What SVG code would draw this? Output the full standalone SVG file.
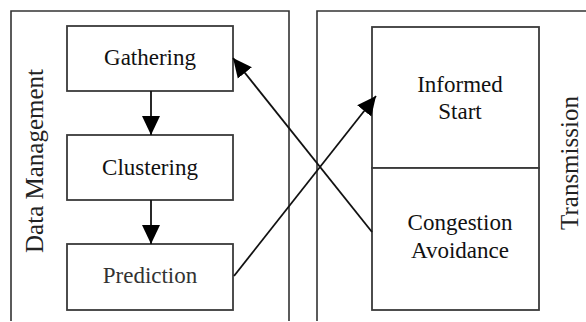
<svg xmlns="http://www.w3.org/2000/svg" width="586" height="322" viewBox="0 0 586 322">
<defs>
<style>
.panel{fill:none;stroke:#333;stroke-width:1.6}
.box{fill:#fff;stroke:#3a3a3a;stroke-width:1.8}
.t{font-family:"Liberation Serif","Times New Roman",serif;font-size:23px;fill:#111;text-anchor:middle}
.lbl{font-family:"Liberation Serif","Times New Roman",serif;font-size:25px;fill:#222;text-anchor:middle}
.c{fill:none;stroke:#111;stroke-width:1.8}
</style>
<marker id="ah" markerUnits="userSpaceOnUse" markerWidth="22" markerHeight="22" viewBox="0 0 22 22" refX="19" refY="11" orient="auto">
<path d="M0,2 L19,11 L0,20 Z" fill="#000"/>
</marker>
</defs>
<rect width="586" height="322" fill="#fff"/>
<g id="panel-data-management">
<path class="panel" d="M11,321 V11 H289 V321"/>
<text class="lbl" transform="translate(43,161) rotate(-90)">Data Management</text>
</g>
<g id="panel-transmission">
<path class="panel" d="M317,321 V11 H586"/>
<text class="lbl" transform="translate(578,163) rotate(-90)">Transmission</text>
</g>
<g id="gathering">
<rect class="box" x="67" y="26" width="166" height="65"/>
<text class="t" x="150" y="65">Gathering</text>
</g>
<g id="clustering">
<rect class="box" x="67" y="135" width="166" height="65"/>
<text class="t" x="150" y="175">Clustering</text>
</g>
<g id="prediction">
<rect class="box" x="67" y="244" width="166" height="66"/>
<text class="t" x="150" y="283" style="fill:#333">Prediction</text>
</g>
<g id="informed-start">
<rect class="box" x="372" y="27" width="167" height="141"/>
<text class="t" x="460" y="92">Informed</text>
<text class="t" x="460" y="119">Start</text>
</g>
<g id="congestion-avoidance">
<rect class="box" x="372" y="168" width="167" height="142"/>
<text class="t" x="460" y="230">Congestion</text>
<text class="t" x="460" y="258">Avoidance</text>
</g>
<g id="connectors">
<line class="c" x1="151" y1="91" x2="151" y2="135" marker-end="url(#ah)"/>
<line class="c" x1="151" y1="200" x2="151" y2="244" marker-end="url(#ah)"/>
<line class="c" x1="234" y1="276" x2="376" y2="96" marker-end="url(#ah)"/>
<line class="c" x1="372" y1="232" x2="233" y2="58" marker-end="url(#ah)"/>
</g>
</svg>
